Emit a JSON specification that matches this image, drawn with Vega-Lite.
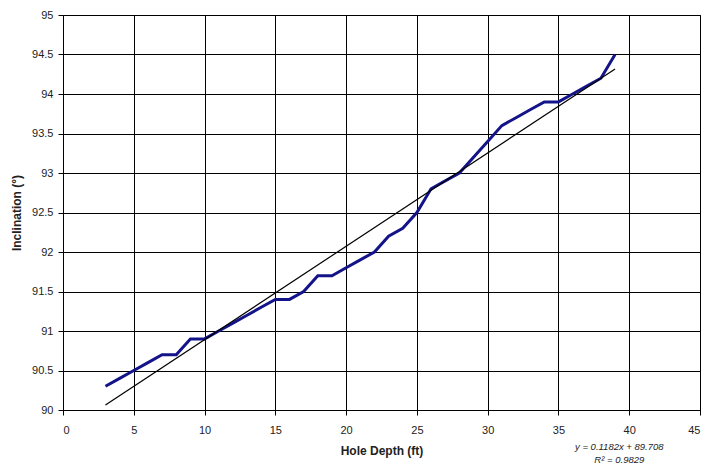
{
  "$schema": "https://vega.github.io/schema/vega-lite/v6.json",
  "width": 637,
  "height": 395,
  "autosize": "none",
  "padding": {"left": 63, "top": 15, "right": 4, "bottom": 56},
  "background": "white",
  "config": {
    "view": {"stroke": "black", "strokeWidth": 1},
    "font": "Liberation Sans",
    "axis": {
      "domainColor": "black",
      "gridColor": "black",
      "gridOpacity": 1,
      "gridWidth": 1,
      "tickColor": "black",
      "tickSize": 5,
      "labelFont": "Liberation Sans",
      "labelFontSize": 11,
      "labelColor": "#222",
      "labelOverlap": false,
      "titleFont": "Liberation Sans",
      "titleFontSize": 12,
      "titleFontWeight": "bold",
      "titleColor": "#222"
    }
  },
  "datasets": {
    "obs": [
      {"depth": 3, "inc": 90.3}, {"depth": 4, "inc": 90.4}, {"depth": 5, "inc": 90.5},
      {"depth": 6, "inc": 90.6}, {"depth": 7, "inc": 90.7}, {"depth": 8, "inc": 90.7},
      {"depth": 9, "inc": 90.9}, {"depth": 10, "inc": 90.9}, {"depth": 11, "inc": 91.0},
      {"depth": 12, "inc": 91.1}, {"depth": 13, "inc": 91.2}, {"depth": 14, "inc": 91.3},
      {"depth": 15, "inc": 91.4}, {"depth": 16, "inc": 91.4}, {"depth": 17, "inc": 91.5},
      {"depth": 18, "inc": 91.7}, {"depth": 19, "inc": 91.7}, {"depth": 20, "inc": 91.8},
      {"depth": 21, "inc": 91.9}, {"depth": 22, "inc": 92.0}, {"depth": 23, "inc": 92.2},
      {"depth": 24, "inc": 92.3}, {"depth": 25, "inc": 92.5}, {"depth": 26, "inc": 92.8},
      {"depth": 27, "inc": 92.9}, {"depth": 28, "inc": 93.0}, {"depth": 29, "inc": 93.2},
      {"depth": 30, "inc": 93.4}, {"depth": 31, "inc": 93.6}, {"depth": 32, "inc": 93.7},
      {"depth": 33, "inc": 93.8}, {"depth": 34, "inc": 93.9}, {"depth": 35, "inc": 93.9},
      {"depth": 36, "inc": 94.0}, {"depth": 37, "inc": 94.1}, {"depth": 38, "inc": 94.2},
      {"depth": 39, "inc": 94.5}
    ],
    "trend": [
      {"depth": 3, "inc": 90.063},
      {"depth": 39, "inc": 94.318}
    ],
    "notes": [
      {"depth": 39.3, "inc": 89.53, "label": "y = 0.1182x + 89.708"},
      {"depth": 39.3, "inc": 89.37, "label": "R² = 0.9829"}
    ]
  },
  "encoding": {
    "x": {
      "field": "depth", "type": "quantitative",
      "scale": {"domain": [0, 45], "nice": false},
      "axis": {"values": [0, 5, 10, 15, 20, 25, 30, 35, 40, 45], "format": "~g", "title": "Hole Depth (ft)", "titlePadding": 10, "labelPadding": 9}
    },
    "y": {
      "field": "inc", "type": "quantitative",
      "scale": {"domain": [90, 95], "nice": false, "zero": false},
      "axis": {"values": [90, 90.5, 91, 91.5, 92, 92.5, 93, 93.5, 94, 94.5, 95], "format": "~g", "title": "Inclination (°)", "titlePadding": 8, "labelPadding": 5}
    }
  },
  "layer": [
    {
      "data": {"name": "obs"},
      "mark": {"type": "line", "color": "#14148a", "strokeWidth": 3}
    },
    {
      "data": {"name": "trend"},
      "mark": {"type": "line", "color": "black", "strokeWidth": 1.2}
    },
    {
      "data": {"name": "notes"},
      "mark": {"type": "text", "fontSize": 9.5, "fontStyle": "italic", "color": "#222", "clip": false, "align": "center", "baseline": "middle"},
      "encoding": {
        "text": {"field": "label"}
      }
    }
  ]
}
